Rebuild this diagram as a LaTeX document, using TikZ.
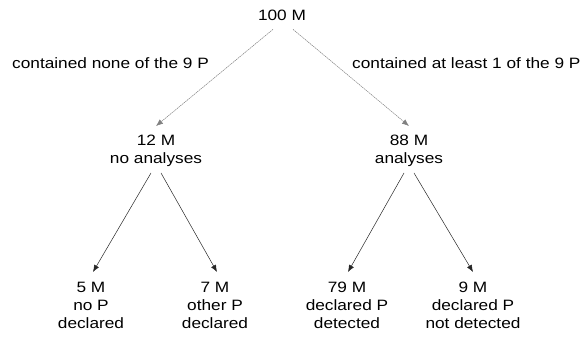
\documentclass[tikz,border=0pt]{standalone}
\usepackage{fontspec}
\setmainfont{Liberation Sans}[FakeStretch=1.15]
\usetikzlibrary{arrows.meta,calc}
\begin{document}
\begin{tikzpicture}[x=1pt,y=-1pt,
 txt/.style={inner sep=0pt, align=center, font=\fontsize{15}{18}\selectfont},
 lbl/.style={inner sep=0pt, font=\fontsize{15}{18}\selectfont},
 upper/.style={draw=gray, line width=0.5pt, dash pattern=on 1.5pt off 0.7pt, -{Latex[length=7pt,width=5.5pt]}},
 lower/.style={draw=black!85, line width=0.5pt, -{Latex[length=7pt,width=5.5pt]}}]
\path[use as bounding box] (0,0) rectangle (583,338);
\node[txt, anchor=base] (top) at (282,20.7) {100 M};
\node[lbl, anchor=base west] (lnone) at (12,68) {contained none of the 9 P};
\node[lbl, anchor=base west] (lone) at (352,68) {contained at least 1 of the 9 P};
\node[txt, anchor=north] (l) at (156,135) {12 M\\no analyses};
\node[txt, anchor=north] (r) at (409,135) {88 M\\analyses};
\node[txt, anchor=north] (ll) at (91,282) {5 M\\no P\\declared};
\node[txt, anchor=north] (lr) at (215,282) {7 M\\other P\\declared};
\node[txt, anchor=north] (rl) at (347,282) {79 M\\declared P\\detected};
\node[txt, anchor=north] (rr) at (473,282) {9 M\\declared P\\not detected};
\draw[upper] ($(top.south)+(-9,8.3)$) -- ($(l.north)+(0,-9)$);
\draw[upper] ($(top.south)+(11,8.3)$) -- ($(r.north)+(0,-9)$);
\draw[lower] ($(l.south)+(-5,6)$) -- ($(ll.north)+(2,-10)$);
\draw[lower] ($(l.south)+(5,6)$) -- ($(lr.north)+(2,-10)$);
\draw[lower] ($(r.south)+(-5,6)$) -- ($(rl.north)+(1,-10)$);
\draw[lower] ($(r.south)+(5,6)$) -- ($(rr.north)+(0,-10)$);
\end{tikzpicture}
\end{document}
